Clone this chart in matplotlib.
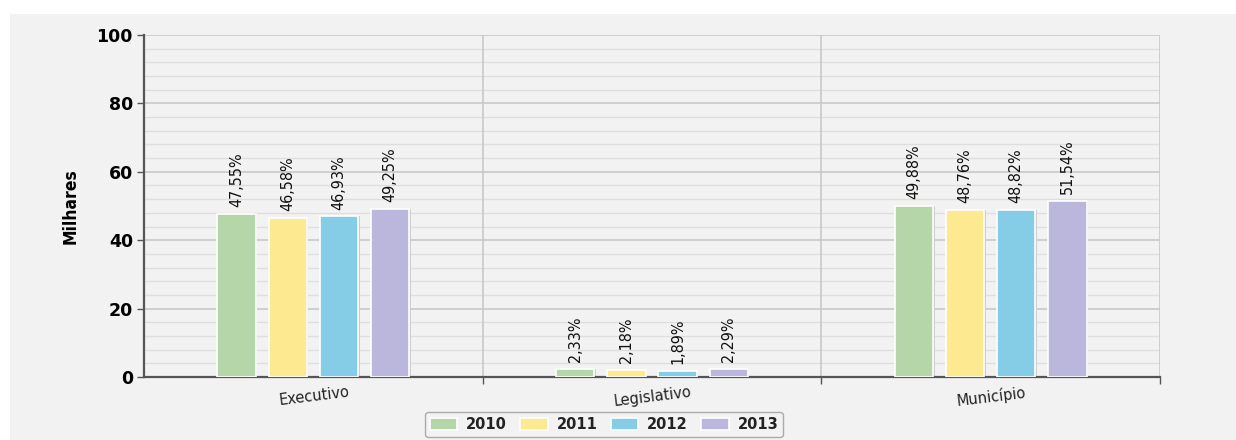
import matplotlib.pyplot as plt
import matplotlib.patches as mpatches
import matplotlib.transforms as mtransforms
import numpy as np

categorias = ["Executivo", "Legislativo", "Município"]
anos = ["2010", "2011", "2012", "2013"]
valores = {
    "2010": [47.55, 2.33, 49.88],
    "2011": [46.58, 2.18, 48.76],
    "2012": [46.93, 1.89, 48.82],
    "2013": [49.25, 2.29, 51.54],
}
cores = ["#b5d6a8", "#fde98f", "#85cde6", "#bab6dc"]

fundo = "#f2f2f2"

fig = plt.figure(figsize=(12.36, 4.4), dpi=100)
fig.patch.set_facecolor("white")
# painel cinzento do gráfico (faixa branca em cima e à esquerda)
fig.add_artist(mpatches.Rectangle((10 / 1236, 0), 1 - 10 / 1236, 1 - 14 / 440,
                                  transform=fig.transFigure, facecolor=fundo,
                                  edgecolor="none", zorder=0))

ax = fig.add_axes([144 / 1236, 63 / 440, 1016 / 1236, 342 / 440])
ax.set_facecolor(fundo)

x = np.arange(len(categorias))
passo = 0.151
largura = 0.113

sombra = mtransforms.offset_copy(ax.transData, fig=fig, x=1.5, y=0, units="dots")
for i, (ano, cor) in enumerate(zip(anos, cores)):
    pos = x + (i - 1.5) * passo
    ax.bar(pos, valores[ano], width=largura, color="#cfcfcf", edgecolor="none",
           transform=sombra, zorder=2)
    ax.bar(pos, valores[ano], width=largura, color=cor, edgecolor="white",
           linewidth=1.2, label=ano, zorder=3)
    for xb, v in zip(pos, valores[ano]):
        ax.annotate(f"{v:.2f}%".replace(".", ","), (xb, v), xytext=(0, 5),
                    textcoords="offset points", rotation=90, ha="center", va="bottom",
                    fontsize=11.5, family="DejaVu Sans", fontstretch="condensed",
                    color="#111111", zorder=4)

ax.set_xlim(-0.5, 2.5)
ax.set_ylim(0, 100)
ax.set_yticks(np.arange(0, 101, 20))
ax.set_yticks(np.arange(0, 101, 4), minor=True)
ax.tick_params(axis="y", which="major", length=5, width=1, color="#555555",
               labelsize=12.5, pad=3)
ax.tick_params(axis="y", which="minor", length=0)
for t in ax.get_yticklabels():
    t.set_fontweight("semibold")

# linhas de grelha
ax.grid(axis="y", which="major", color="#c8c8c8", linewidth=1.2, zorder=0)
ax.grid(axis="y", which="minor", color="#dedede", linewidth=1.0, zorder=0)
ax.set_axisbelow(True)

# separadores entre categorias
ax.set_xticks([0.5, 1.5, 2.5])
ax.set_xticklabels([])
ax.tick_params(axis="x", length=5, width=1, color="#555555")
for xs in [0.5, 1.5, 2.5]:
    ax.axvline(xs, color="#c8c8c8", linewidth=1.2, zorder=1)

for lado in ["top", "right"]:
    ax.spines[lado].set_visible(False)
ax.spines["left"].set_color("#555555")
ax.spines["left"].set_linewidth(1.6)
ax.spines["bottom"].set_color("#555555")
ax.spines["bottom"].set_linewidth(1.6)

# rótulos das categorias, ligeiramente inclinados
trans = mtransforms.blended_transform_factory(ax.transData, ax.transAxes)
for xc, nome in zip(x, categorias):
    ax.text(xc, -0.035, nome, transform=trans, rotation=7, ha="center", va="top",
            fontsize=10.5, color="#222222", rotation_mode="anchor")

ax.set_ylabel("Milhares", fontsize=12.5, fontweight="bold", family="DejaVu Sans",
              fontstretch="condensed", labelpad=12)

leg = fig.legend(loc="lower center", bbox_to_anchor=(604 / 1236, 3 / 440), ncol=4,
                 frameon=True, fancybox=True, fontsize=10.5, handlelength=1.9,
                 handleheight=0.9, columnspacing=0.9, handletextpad=0.6,
                 borderpad=0.35, borderaxespad=0, edgecolor="#999999", facecolor=fundo)
leg.get_frame().set_linewidth(1.0)
for t in leg.get_texts():
    t.set_fontweight("semibold")
    t.set_color("#222222")

fig.savefig("out.png", dpi=100, facecolor=fig.get_facecolor())
